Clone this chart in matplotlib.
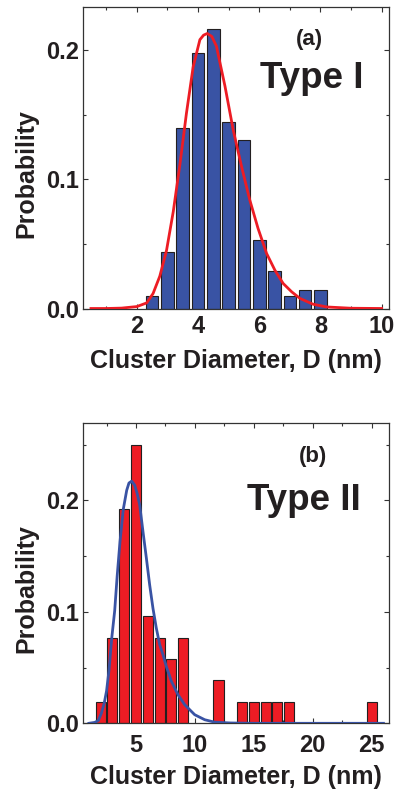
import matplotlib
matplotlib.use("Agg")
import matplotlib.pyplot as plt
from matplotlib.ticker import MultipleLocator, FormatStrFormatter

# ---- data ----
# (a) Type I histogram
type1_diam = [2.5, 3.0, 3.5, 4.0, 4.5, 5.0, 5.5, 6.0, 6.5, 7.0, 7.5, 8.0]
type1_prob = [0.0097, 0.0434, 0.1395, 0.1976, 0.2162, 0.1440, 0.1300, 0.0530,
              0.0291, 0.0097, 0.0145, 0.0145]

# (a) fitted curve
type1_fit_x = [0.5, 1.0, 1.5, 2.0, 2.32, 2.53, 2.75, 2.97, 3.19, 3.41, 3.62,
               3.84, 4.06, 4.18, 4.30, 4.45, 4.60, 4.88, 5.15, 5.42, 5.69,
               5.96, 6.24, 6.51, 6.78, 7.06, 7.33, 7.76, 8.2, 9.0, 10.0]
type1_fit_y = [0.0, 0.0, 0.0003, 0.0015, 0.0043, 0.0116, 0.025, 0.045, 0.075,
               0.112, 0.151, 0.187, 0.208, 0.2115, 0.2128, 0.2105, 0.203,
               0.172, 0.138, 0.110, 0.084, 0.062, 0.0426, 0.0297, 0.0194,
               0.0129, 0.0078, 0.0033, 0.0012, 0.0002, 0.0]

# (b) Type II histogram
type2_diam = [2, 3, 4, 5, 6, 7, 8, 9, 12, 14, 15, 16, 17, 18, 25]
type2_prob = [0.0192, 0.0769, 0.1923, 0.2500, 0.0962, 0.0769, 0.0577, 0.0769,
              0.0385, 0.0192, 0.0192, 0.0192, 0.0192, 0.0192, 0.0192]

# (b) fitted curve
type2_fit_x = [1.0, 1.5, 1.8, 2.06, 2.3, 2.5, 2.7, 2.94, 3.19, 3.40, 3.64,
               3.92, 4.21, 4.40, 4.63, 4.89, 5.10, 5.31, 5.59, 5.88, 6.16,
               6.44, 6.72, 7.01, 7.29, 7.57, 8.0, 8.56, 9.13, 9.98, 10.83,
               11.68, 13.0, 15.0, 20.0, 26.0]
type2_fit_y = [0.0, 0.0008, 0.0025, 0.009, 0.018, 0.029, 0.047, 0.0765, 0.101,
               0.132, 0.163, 0.192, 0.209, 0.2155, 0.2172, 0.2135, 0.206,
               0.196, 0.172, 0.148, 0.124, 0.103, 0.0855, 0.0705, 0.0615,
               0.051, 0.0377, 0.0257, 0.0167, 0.0077, 0.0032, 0.001, 0.0003,
               0.0, 0.0, 0.0]

TEXT = '#231F20'
BLUE = '#3953A4'
RED = '#ED1C24'

plt.rcParams['font.family'] = ['Liberation Sans', 'DejaVu Sans']
plt.rcParams['font.weight'] = 'bold'
plt.rcParams['text.color'] = TEXT
plt.rcParams['axes.labelcolor'] = TEXT
plt.rcParams['xtick.color'] = '#333333'
plt.rcParams['ytick.color'] = '#333333'

W, H = 395, 791


def fx(px):
    return px / W


def fy(py):
    return 1 - py / H


def style_axes(ax, xpad):
    for s in ax.spines.values():
        s.set_color('#333333')
        s.set_linewidth(0.9)
    ax.tick_params(which='both', direction='in', top=True, right=True,
                   labelcolor=TEXT, labelsize=17, width=0.8)
    ax.tick_params(which='major', length=3.5)
    ax.tick_params(which='minor', length=2)
    ax.tick_params(axis='x', pad=xpad)
    ax.tick_params(axis='y', pad=3)
    ax.yaxis.set_major_locator(MultipleLocator(0.1))
    ax.yaxis.set_minor_locator(MultipleLocator(0.05))
    ax.yaxis.set_major_formatter(FormatStrFormatter('%.1f'))
    ax.set_ylabel('Probability', fontsize=18, fontweight='bold')
    ax.set_xlabel('Cluster Diameter, D (nm)', fontsize=18, fontweight='bold')


fig = plt.figure(figsize=(W / 100, H / 100), dpi=100)

# panel (a)
ax1 = fig.add_axes([fx(83), fy(308.5), 306 / W, 301.5 / H])
ax1.bar(type1_diam, type1_prob, width=0.41, color=BLUE, edgecolor=TEXT,
        linewidth=0.8, zorder=2)
ax1.plot(type1_fit_x, type1_fit_y, color=RED, linewidth=2.0, zorder=3)
ax1.set_xlim(0.24, 10.24)
ax1.set_ylim(0, 0.2333)
ax1.xaxis.set_major_locator(MultipleLocator(2))
ax1.xaxis.set_minor_locator(MultipleLocator(1))
style_axes(ax1, xpad=4.5)
ax1.xaxis.set_label_coords(0.5, -0.135)
ax1.yaxis.set_label_coords(-0.145, 0.449)

# panel (b)
ax2 = fig.add_axes([fx(83), fy(723.3), 306 / W, 300.6 / H])
ax2.bar(type2_diam, type2_prob, width=0.85, color=RED, edgecolor=TEXT,
        linewidth=0.8, zorder=2)
ax2.plot(type2_fit_x, type2_fit_y, color=BLUE, linewidth=2.0, zorder=3)
ax2.set_xlim(0.5, 26.47)
ax2.set_ylim(0, 0.2696)
ax2.xaxis.set_major_locator(MultipleLocator(5))
ax2.xaxis.set_minor_locator(MultipleLocator(2.5))
style_axes(ax2, xpad=7.5)
ax2.xaxis.set_label_coords(0.5, -0.139)
ax2.yaxis.set_label_coords(-0.145, 0.447)

# panel annotations
fig.text(fx(309), fy(39), '(a)', fontsize=16, fontweight='bold',
         ha='center', va='center')
fig.text(fx(312), fy(88.3), 'Type I', fontsize=26.5, fontweight='bold',
         ha='center', va='baseline')
fig.text(fx(313), fy(456.7), '(b)', fontsize=16, fontweight='bold',
         ha='center', va='center')
fig.text(fx(304), fy(510), 'Type II', fontsize=26.5, fontweight='bold',
         ha='center', va='baseline')

fig.savefig('out.png', dpi=100)
